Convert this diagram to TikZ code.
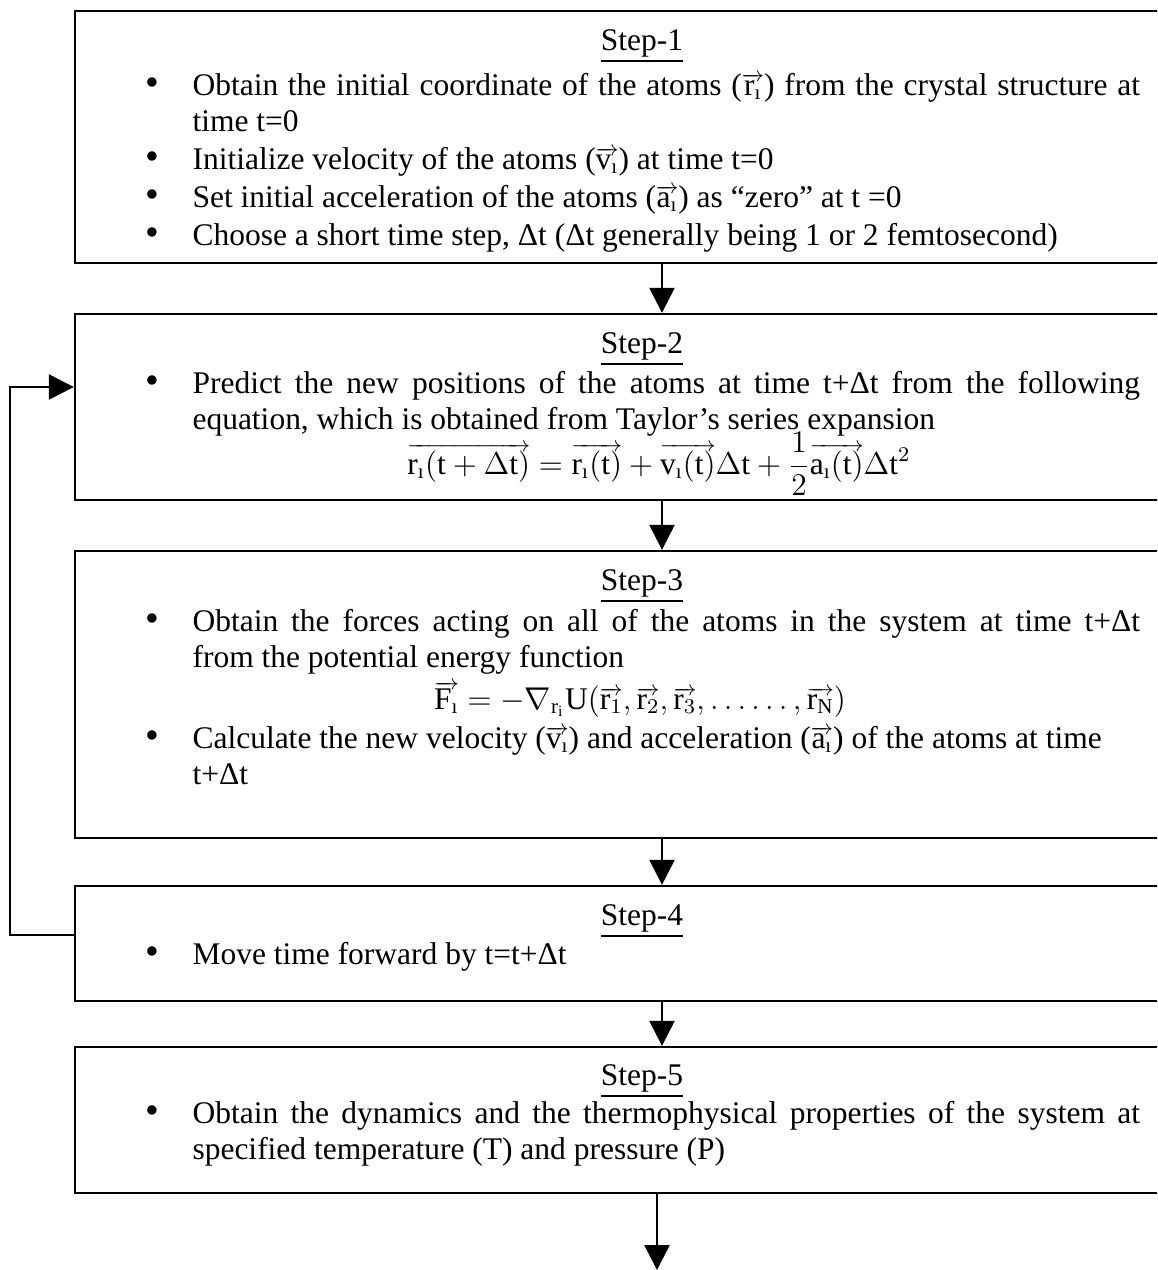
\documentclass[tikz,border=0pt]{standalone}
\usepackage{amsmath}
\usepackage{fontspec}
\setmainfont{Liberation Serif}
\usetikzlibrary{arrows.meta,fit}
\setlength{\parindent}{0pt}
\makeatletter
\newcommand{\sarrowfill}{$\m@th\scriptstyle\smash-\mkern-7mu\cleaders\hbox{$\scriptstyle\mkern-2mu\smash-\mkern-2mu$}\hfill\mkern-7mu\mathord\rightarrow$}
\newcommand{\varr}[1]{\vbox{\m@th\ialign{##\crcr\sarrowfill\crcr\noalign{\kern-0.4pt\nointerlineskip}$\hfil\displaystyle{#1}\hfil$\crcr}}}
\makeatother
\newcommand{\vx}[1]{$\varr{\mathrm{#1}_{\text{ı}}}$}
\newcommand{\bul}{\llap{{\fontsize{15}{15}\selectfont\textbullet}\hspace{12.5pt}}}
\tikzset{
	stepbox/.style={draw, line width=0.9pt, inner sep=0pt},
	title/.style={anchor=base, inner sep=0pt},
	item/.style={anchor=base west, inner sep=0pt, text width=361pt, align=justify},
	flow/.style={line width=0.9pt, -{Triangle[length=9.5pt,width=9.5pt]}},
}
\begin{document}
\begin{tikzpicture}[x=0.381pt, y=-0.381pt]
		\useasboundingbox (0,0) rectangle (1157,1270);
		\clip (0,0) rectangle (1157,1270);

		\node[stepbox, fit={(75,11) (1249,263)}] (b1) {};
		\node[stepbox, fit={(75,314) (1249,500)}] (b2) {};
		\node[stepbox, fit={(75,551) (1249,838)}] (b3) {};
		\node[stepbox, fit={(75,886) (1249,1001)}] (b4) {};
		\node[stepbox, fit={(75,1047) (1249,1193)}] (b5) {};

		\begin{scope}[every node/.append style={font=\fontsize{12}{13.9}\selectfont}]
			\node[title] (t1) at (642,50) {\underline{Step-1}};
			\node[item] (s1a) at (192,95) {\bul Obtain the initial coordinate of the atoms (\vx{r}) from the crystal structure at\linebreak time t=0};
			\node[item] (s1b) at (192,169) {\bul Initialize velocity of the atoms (\vx{v}) at time t=0};
			\node[item] (s1c) at (192,207) {\bul Set initial acceleration of the atoms (\vx{a}) as “zero” at t =0};
			\node[item] (s1d) at (192,245) {\bul Choose a short time step, Δt (Δt generally being 1 or 2 femtosecond)};

			\node[title] (t2) at (642,353) {\underline{Step-2}};
			\node[item] (s2a) at (192,393) {\bul Predict the new positions of the atoms at time t+Δt from the following\linebreak equation, which is obtained from Taylor’s series expansion};
			\node[title] (eq2) at (659,474) {$\displaystyle \varr{\mathrm{r}_{\text{ı}}(\mathrm{t}+\Delta\mathrm{t})} = \varr{\mathrm{r}_{\text{ı}}(\mathrm{t})} + \varr{\mathrm{v}_{\text{ı}}(\mathrm{t})}\Delta\mathrm{t} + \frac{1}{2}\varr{\mathrm{a}_{\text{ı}}(\mathrm{t})}\Delta\mathrm{t}^2$};

			\node[title] (t3) at (642,590) {\underline{Step-3}};
			\node[item] (s3a) at (192,631) {\bul Obtain the forces acting on all of the atoms in the system at time t+Δt\linebreak from the potential energy function};
			\node[title] (eq3) at (640,709) {$\varr{\mathrm{F}_{\text{ı}}} = -\nabla_{\mathrm{r_i}}\mathrm{U}(\varr{\mathrm{r}_1},\varr{\mathrm{r}_2},\varr{\mathrm{r}_3},\ldots\ldots,\varr{\mathrm{r}_{\mathrm{N}}})$};
			\node[item] (s3b) at (192,748) {\bul Calculate the new velocity (\vx{v}) and acceleration (\vx{a}) of the atoms at time\newline t+Δt};

			\node[title] (t4) at (642,925) {\underline{Step-4}};
			\node[item] (s4a) at (192,964) {\bul Move time forward by t=t+Δt};

			\node[title] (t5) at (642,1085) {\underline{Step-5}};
			\node[item] (s5a) at (192,1123) {\bul Obtain the dynamics and the thermophysical properties of the system at\linebreak specified temperature (T) and pressure (P)};
		\end{scope}

		\coordinate (back) at (10,935);
		\coordinate (backtop) at (10,387);
		\coordinate (out) at (657,1270);

		\draw[flow] (b1) -- (b2);
		\draw[flow] (b2) -- (b3);
		\draw[flow] (b3) -- (b4);
		\draw[flow] (b4) -- (b5);
		\draw[flow] (b5.south -| out) -- (out);
		\draw[flow] (b4.west |- back) -- (back) -- (backtop) -- (b2.west |- backtop);
	\end{tikzpicture}
\end{document}
